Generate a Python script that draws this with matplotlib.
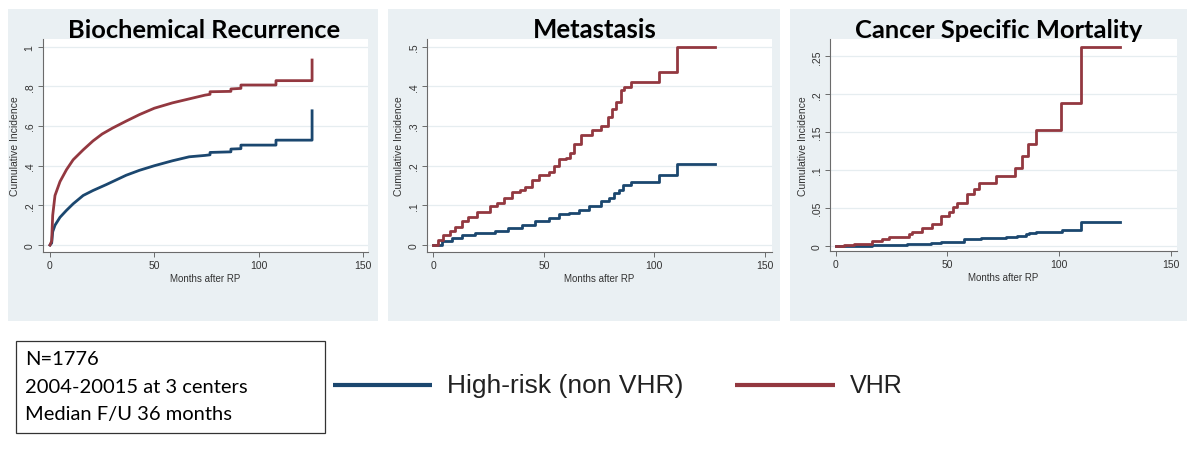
import matplotlib
matplotlib.use("Agg")
import matplotlib.pyplot as plt
from matplotlib.patches import Rectangle
from matplotlib.lines import Line2D

# ---------------- data ----------------
series_names = ["High-risk (non VHR)", "VHR"]
panel_titles = ["Biochemical Recurrence", "Metastasis", "Cancer Specific Mortality"]
x_label = "Months after RP"
y_label = "Cumulative Incidence"
x_ticks = [0, 50, 100, 150]
x_tick_labels = ["0", "50", "100", "150"]

bcr_y_ticks = [0, 0.2, 0.4, 0.6, 0.8, 1.0]
bcr_y_tick_labels = ["0", ".2", ".4", ".6", ".8", "1"]
met_y_ticks = [0, 0.1, 0.2, 0.3, 0.4, 0.5]
met_y_tick_labels = ["0", ".1", ".2", ".3", ".4", ".5"]
csm_y_ticks = [0, 0.05, 0.10, 0.15, 0.20, 0.25]
csm_y_tick_labels = ["0", ".05", ".1", ".15", ".2", ".25"]

# Biochemical recurrence (dense curve, drawn as a line)
bcr_hr_t = [0, 0.8, 1.3, 2.4, 4.8, 7.9, 11.1, 15.9, 20.6, 27, 36.5, 42.9, 50, 58.7, 66.7,
            74.3, 76.7, 76.7, 86.7, 86.7, 91.5, 91.5, 108.3, 108.3, 125.6, 125.6]
bcr_hr_y = [0, 0.01, 0.067, 0.10, 0.14, 0.175, 0.208, 0.25, 0.275, 0.305, 0.352, 0.377, 0.400, 0.425, 0.445,
            0.452, 0.455, 0.467, 0.470, 0.484, 0.486, 0.504, 0.504, 0.529, 0.529, 0.677]
bcr_vhr_t = [0, 0.8, 1.3, 2.4, 4.8, 7.9, 11.1, 15.9, 20.6, 25, 30, 36.5, 42.9, 50, 58.7, 66.7,
             74.3, 76.7, 76.7, 86.7, 86.7, 91.5, 91.5, 108.3, 108.3, 125.6, 125.6]
bcr_vhr_y = [0, 0.02, 0.15, 0.25, 0.32, 0.38, 0.43, 0.48, 0.525, 0.56, 0.59, 0.625, 0.658, 0.69, 0.717, 0.737,
             0.756, 0.760, 0.773, 0.775, 0.787, 0.790, 0.807, 0.807, 0.829, 0.829, 0.933]

# Metastasis (step functions)
met_hr_t = [0, 3.8, 8.3, 12.9, 18.9, 28, 34, 40.2, 46.2, 52.3, 56.8, 61.4, 65.9, 70.5, 75.8,
            79.5, 81.8, 84, 85.6, 89.4, 102, 110.2, 127.6]
met_hr_y = [0, 0.010, 0.017, 0.024, 0.029, 0.036, 0.044, 0.050, 0.060, 0.067, 0.078, 0.080, 0.088, 0.099, 0.111,
            0.119, 0.130, 0.138, 0.150, 0.159, 0.176, 0.203, 0.203]
met_vhr_t = [0, 2.3, 4.5, 7.6, 9.8, 12.9, 15.9, 19.7, 25.8, 28.8, 31.8, 35.6, 39.4, 41.7, 44.7, 47.7,
             52.3, 54.5, 56.8, 59.8, 62, 63.6, 66.7, 72, 75.8, 78.8, 81, 82.6, 84.8, 86.4, 89.4, 102, 110.2, 127.6]
met_vhr_y = [0, 0.013, 0.025, 0.034, 0.046, 0.060, 0.071, 0.082, 0.097, 0.105, 0.118, 0.133, 0.139, 0.145, 0.164, 0.176,
             0.183, 0.200, 0.217, 0.220, 0.231, 0.254, 0.277, 0.290, 0.300, 0.322, 0.343, 0.360, 0.390, 0.397, 0.410,
             0.437, 0.500, 0.500]

# Cancer specific mortality (step functions)
csm_hr_t = [0, 16.2, 32, 42.5, 47, 57.5, 65, 72.5, 76.3, 80, 81.3, 85, 86.6, 89.6, 101.2, 110, 127.3]
csm_hr_y = [0, 0.001, 0.0022, 0.0035, 0.0053, 0.0088, 0.0097, 0.0101, 0.0114, 0.012, 0.013, 0.0154, 0.0167,
            0.0185, 0.021, 0.0317, 0.0317]
csm_vhr_t = [0, 3.5, 8, 16.2, 20.7, 23.7, 32.7, 34.2, 38.7, 43.2, 47, 50.8, 52.3, 54.5, 59, 62, 64.3,
             71.6, 80.3, 83.3, 86, 89.5, 101, 110, 127.3]
csm_vhr_y = [0, 0.0013, 0.0026, 0.0066, 0.0088, 0.011, 0.0154, 0.0176, 0.024, 0.0286, 0.0396, 0.044, 0.0506,
             0.057, 0.068, 0.075, 0.0825, 0.092, 0.103, 0.118, 0.134, 0.153, 0.188, 0.263, 0.263]

info_lines = ["N=1776", "2004-20015 at 3 centers", "Median F/U 36 months"]

# ---------------- styling ----------------
W, H = 1200, 452
BLUE = "#1b476f"
RED = "#933840"
PANEL_BG = "#eaf0f3"
GRID = "#e6edf0"
AXC = "#6b6b6b"

fig = plt.figure(figsize=(W / 100, H / 100), dpi=100)
fig.patch.set_facecolor("white")
renderer = fig.canvas.get_renderer()


def fx(px):
    return px / W


def fy(py):
    return 1 - py / H


def fit(txt, width_px):
    bb = txt.get_window_extent(renderer)
    txt.set_fontsize(txt.get_fontsize() * width_px / bb.width)


# panel backgrounds
for x0, x1 in [(8, 378), (388, 780), (790, 1187)]:
    fig.add_artist(Rectangle((fx(x0), fy(322)), fx(x1 - x0), (322 - 10) / H,
                             transform=fig.transFigure, facecolor=PANEL_BG,
                             edgecolor="none", zorder=0))

panels = [
    dict(box=(43, 368, 40, 253), xlim=(-3.35, 152.4), ylim=(-0.035, 1.039),
         yt=bcr_y_ticks, ytl=bcr_y_tick_labels,
         hr=(bcr_hr_t, bcr_hr_y), vhr=(bcr_vhr_t, bcr_vhr_y), step=False,
         title=panel_titles[0], tx=204, tw=272),
    dict(box=(427, 772, 40, 253), xlim=(-2.85, 153.2), ylim=(-0.0177, 0.519),
         yt=met_y_ticks, ytl=met_y_tick_labels,
         hr=(met_hr_t, met_hr_y), vhr=(met_vhr_t, met_vhr_y), step=True,
         title=panel_titles[1], tx=595, tw=124),
    dict(box=(830, 1177, 40, 252), xlim=(-2.55, 152.8), ylim=(-0.007, 0.273),
         yt=csm_y_ticks, ytl=csm_y_tick_labels,
         hr=(csm_hr_t, csm_hr_y), vhr=(csm_vhr_t, csm_vhr_y), step=True,
         title=panel_titles[2], tx=999, tw=288),
]

for p in panels:
    l, r, t, b = p["box"]
    ax = fig.add_axes([fx(l), fy(b), (r - l) / W, (b - t) / H])
    ax.set_facecolor("white")
    ax.set_xlim(*p["xlim"])
    ax.set_ylim(*p["ylim"])
    ds = "steps-post" if p["step"] else "default"
    ax.plot(p["hr"][0], p["hr"][1], color=BLUE, lw=2.0, drawstyle=ds, zorder=3)
    ax.plot(p["vhr"][0], p["vhr"][1], color=RED, lw=2.0, drawstyle=ds, zorder=3)
    ax.set_xticks(x_ticks)
    ax.set_xticklabels(x_tick_labels)
    ax.set_yticks(p["yt"])
    ax.set_yticklabels(p["ytl"], rotation=90, va="center")
    ax.yaxis.grid(True, color=GRID, lw=0.9, zorder=0)
    ax.set_axisbelow(True)
    for s in ["top", "right"]:
        ax.spines[s].set_visible(False)
    for s in ["left", "bottom"]:
        ax.spines[s].set_color(AXC)
        ax.spines[s].set_linewidth(0.8)
    ax.tick_params(direction="out", length=3.5, width=0.7, color=AXC,
                   labelsize=7.5, labelcolor="#333333", pad=2.5)
    ax.set_xlabel(x_label, fontsize=7, color="#333333", labelpad=2)
    ax.set_ylabel(y_label, fontsize=7.5, color="#333333", labelpad=3)
    for lab in ax.get_xticklabels() + ax.get_yticklabels():
        lab.set_family("Liberation Sans")
    ax.xaxis.label.set_family("Liberation Sans")
    ax.yaxis.label.set_family("Liberation Sans")
    tt = fig.text(fx(p["tx"]), fy(38.5), p["title"], ha="center", va="baseline",
                  fontsize=18, fontweight="bold", family="Lato", color="black")
    fit(tt, p["tw"])

# info box
fig.add_artist(Rectangle((fx(16), fy(434)), fx(325 - 16), (434 - 342) / H,
                         transform=fig.transFigure, facecolor="white",
                         edgecolor="#333333", lw=0.9, zorder=1))
info_y = [360, 388, 415]
info_txts = []
for s, yy in zip(info_lines, info_y):
    info_txts.append(fig.text(fx(25), fy(yy), s, ha="left", va="center",
                              fontsize=14, family="Lato", color="black"))
bb = info_txts[1].get_window_extent(renderer)
scale = 223 / bb.width
for t_ in info_txts:
    t_.set_fontsize(14 * scale)

# legend
fig.add_artist(Line2D([fx(333), fx(432)], [fy(386), fy(386)], color=BLUE, lw=3.0,
                      transform=fig.transFigure, solid_capstyle="butt"))
fig.add_artist(Line2D([fx(735), fx(835)], [fy(386), fy(386)], color=RED, lw=3.0,
                      transform=fig.transFigure, solid_capstyle="butt"))
l1 = fig.text(fx(447), fy(386), series_names[0], ha="left", va="center",
              fontsize=18, family="Liberation Sans", color="#222222")
fit(l1, 236)
l2 = fig.text(fx(850), fy(386), series_names[1], ha="left", va="center",
              fontsize=18, family="Liberation Sans", color="#222222")
fit(l2, 53)

fig.savefig("out.png", dpi=100)
